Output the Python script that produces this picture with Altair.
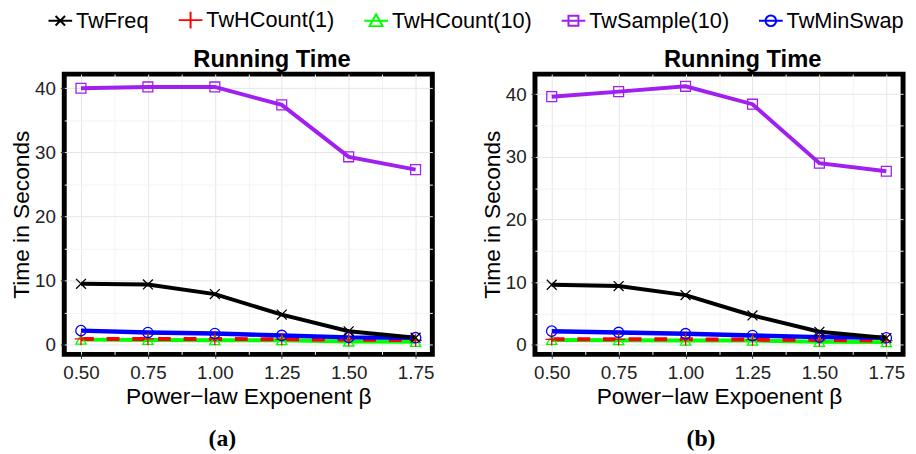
import altair as alt
import pandas as pd

# ---------------- data ----------------
x_vals = [0.50, 0.75, 1.00, 1.25, 1.50, 1.75]
series = ["TwFreq", "TwHCount(1)", "TwHCount(10)", "TwSample(10)", "TwMinSwap"]
colors = ["#000000", "#FF0000", "#00FF00", "#A020F0", "#0000FF"]

# panel (a)
a_freq = [9.5, 9.4, 7.9, 4.7, 2.1, 1.1]
a_hc1 = [0.9, 0.9, 0.9, 0.85, 0.8, 0.7]
a_hc10 = [0.8, 0.75, 0.7, 0.7, 0.5, 0.45]
a_sample = [40.0, 40.2, 40.2, 37.4, 29.3, 27.3]
a_minswap = [2.2, 1.9, 1.75, 1.45, 1.15, 1.1]

# panel (b)
b_freq = [9.6, 9.4, 7.95, 4.7, 2.1, 1.1]
b_hc1 = [0.9, 0.9, 0.9, 0.85, 0.8, 0.7]
b_hc10 = [0.8, 0.75, 0.7, 0.7, 0.5, 0.45]
b_sample = [39.6, 40.4, 41.25, 38.4, 29.0, 27.7]
b_minswap = [2.2, 2.0, 1.8, 1.5, 1.25, 1.15]

x_ticks = [0.5, 0.625, 0.75, 0.875, 1.0, 1.125, 1.25, 1.375, 1.5, 1.625, 1.75]
y_ticks = [0, 5, 10, 15, 20, 25, 30, 35, 40]
x_domain = [0.4375, 1.8125]
a_y_domain = [-1.5, 42.2]
b_y_domain = [-1.5, 43.2]

# ---------------- styles ----------------
FONT = "Liberation Sans"
draw_order = ["TwHCount(10)", "TwHCount(1)", "TwMinSwap", "TwFreq", "TwSample(10)"]
color_of = dict(zip(series, colors))
dash_of = {"TwHCount(1)": [13, 13]}
width_of = {"TwMinSwap": 4.5}
marker_shape = {
    "TwFreq": "M-1,-1L1,1M-1,1L1,-1",
    "TwHCount(1)": "M0,-1L0,1M-1,0L1,0",
    "TwHCount(10)": "triangle-up",
    "TwSample(10)": "square",
    "TwMinSwap": "circle",
}
marker_size = {"TwFreq": 100, "TwHCount(1)": 160, "TwHCount(10)": 110,
               "TwSample(10)": 100, "TwMinSwap": 110}
legend_paths = [
    "M-1,0L1,0M-0.4,-0.4L0.4,0.4M-0.4,0.4L0.4,-0.4",
    "M-1,0L1,0M0,-0.7L0,0.7",
    "M-1,0L1,0M0,-0.55L0.55,0.45L-0.55,0.45Z",
    "M-1,0L1,0M-0.42,-0.42L0.42,-0.42L0.42,0.42L-0.42,0.42Z",
    "M-1,0L1,0M0.45,0A0.45,0.45 0 1,1 -0.45,0A0.45,0.45 0 1,1 0.45,0Z",
]


def make_df(vals):
    rows = []
    for s in series:
        for xv, yv in zip(x_vals, vals[s]):
            rows.append({"x": xv, "y": yv, "series": s})
    return pd.DataFrame(rows)


df_a = make_df({"TwFreq": a_freq, "TwHCount(1)": a_hc1, "TwHCount(10)": a_hc10,
                "TwSample(10)": a_sample, "TwMinSwap": a_minswap})
df_b = make_df({"TwFreq": b_freq, "TwHCount(1)": b_hc1, "TwHCount(10)": b_hc10,
                "TwSample(10)": b_sample, "TwMinSwap": b_minswap})

x_axis = alt.Axis(
    values=x_ticks,
    labelExpr="(datum.value * 8) % 2 == 0 ? format(datum.value, '.2f') : ''",
    title="Power\u2212law Expoenent \u03b2",
    gridColor={"condition": {"test": "(datum.value * 8) % 2 == 0", "value": "#E6E6E6"},
               "value": "#F3F3F3"},
    tickOpacity={"condition": {"test": "(datum.value * 8) % 2 == 0", "value": 1}, "value": 0},
)
y_axis = alt.Axis(
    values=y_ticks,
    labelExpr="datum.value % 10 == 0 ? format(datum.value, 'd') : ''",
    title="Time in Seconds",
    gridColor={"condition": {"test": "datum.value % 10 == 0", "value": "#E6E6E6"},
               "value": "#F3F3F3"},
    tickOpacity={"condition": {"test": "datum.value % 10 == 0", "value": 1}, "value": 0},
)

legend = alt.Legend(
    orient="none", direction="horizontal", columns=5, legendX=-17, legendY=-68,
    title=None, labelFont=FONT, labelFontSize=22, labelColor="black", labelLimit=0,
    labelOffset=3, columnPadding=26, symbolSize=576, symbolStrokeWidth=2,
    symbolOpacity=1, padding=0,
)


def panel(df, ydom, with_legend):
    xenc = alt.X("x:Q", scale=alt.Scale(domain=x_domain, nice=False, zero=False), axis=x_axis)
    yenc = alt.Y("y:Q", scale=alt.Scale(domain=ydom, nice=False, zero=False), axis=y_axis)
    layers = []
    for s in draw_order:
        line_kw = dict(strokeWidth=width_of.get(s, 4), color=color_of[s])
        if s in dash_of:
            line_kw["strokeDash"] = dash_of[s]
        layers.append(
            alt.Chart(df).transform_filter(alt.datum.series == s)
            .mark_line(**line_kw).encode(x=xenc, y=yenc)
        )
    for s in draw_order:
        layers.append(
            alt.Chart(df).transform_filter(alt.datum.series == s).mark_point(
                shape=marker_shape[s], size=marker_size[s], filled=False,
                strokeWidth=1.3, color=color_of[s], opacity=1,
            ).encode(x=xenc, y=yenc)
        )
    if with_legend:
        layers.append(
            alt.Chart(df).transform_filter("false").mark_point(filled=False, strokeWidth=2).encode(
                x=xenc, y=yenc,
                color=alt.Color("series:N", scale=alt.Scale(domain=series, range=colors),
                                legend=legend),
                shape=alt.Shape("series:N", scale=alt.Scale(domain=series, range=legend_paths),
                                legend=legend),
            )
        )
    return alt.layer(*layers).properties(
        width=373, height=284,
        title=alt.Title("Running Time", font=FONT, fontSize=24, fontWeight="bold",
                        color="black", anchor="middle", frame="group", dx=24, offset=2),
    )


def wrap(ch, label, dx):
    return alt.vconcat(ch, title=alt.Title(label, orient="bottom", font="Liberation Serif",
                                           fontSize=24, fontWeight="bold", color="black",
                                           anchor="middle", offset=16, dx=dx))


chart = alt.hconcat(
    wrap(panel(df_a, a_y_domain, True), "(a)", 0),
    wrap(panel(df_b, b_y_domain, False), "(b)", 8),
    spacing=42,
).resolve_scale(x="independent", y="independent").properties(
    padding={"top": -4, "left": 0, "right": 0, "bottom": 0}
).configure_view(
    stroke="black", strokeWidth=5
).configure_axis(
    labelFont=FONT, titleFont=FONT, labelFontSize=19, titleFontSize=23,
    labelColor="#222222", titleColor="black", titleFontWeight="normal",
    tickColor="#333333", tickSize=4, domain=False, gridWidth=1,
).configure_axisY(titlePadding=1, labelPadding=5).configure_axisX(titlePadding=4, labelPadding=5)

chart.save("out.html", embed_options={"renderer": "svg", "actions": False})
